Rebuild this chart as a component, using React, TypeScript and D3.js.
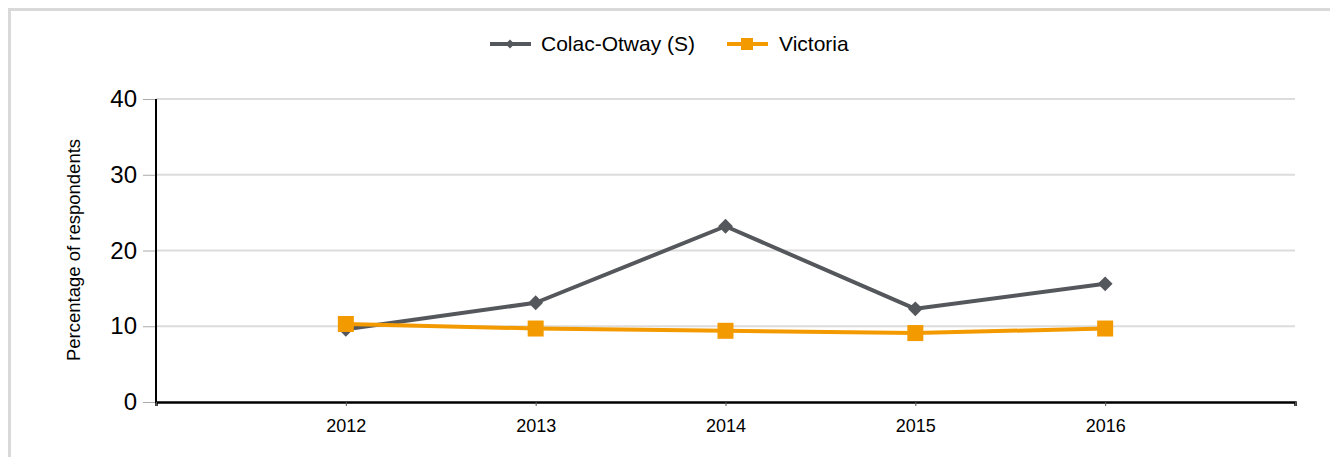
import React, { useEffect, useRef } from "react";
import * as d3 from "d3";

const years = [2012, 2013, 2014, 2015, 2016];
const colacOtway = [9.6, 13.1, 23.2, 12.3, 15.6];
const victoria = [10.3, 9.7, 9.4, 9.1, 9.7];
const yTicks = [0, 10, 20, 30, 40];

const GREY = "#54575b";
const ORANGE = "#f39a00";
const FONT = "Liberation Sans, Arial, sans-serif";

export default function App() {
  const ref = useRef<SVGSVGElement>(null);

  useEffect(() => {
    const svg = d3.select(ref.current);
    svg.selectAll("*").remove();

    // outer frame (runs off the right/bottom of the page)
    svg.append("rect")
      .attr("x", 9.5).attr("y", 9.5)
      .attr("width", 1400).attr("height", 500)
      .attr("fill", "#fff")
      .attr("stroke", "#d9d9d9")
      .attr("stroke-width", 3);

    const x = d3.scaleLinear().domain([2011, 2017]).range([156, 1295]);
    const y = d3.scaleLinear().domain([0, 40]).range([402, 99]);

    // gridlines
    svg.append("g")
      .selectAll("line")
      .data(yTicks.filter(d => d > 0))
      .enter().append("line")
      .attr("x1", 156).attr("x2", 1295)
      .attr("y1", d => y(d)).attr("y2", d => y(d))
      .attr("stroke", "#dcdcdc")
      .attr("stroke-width", 2);

    // y axis
    const yAxis = svg.append("g")
      .attr("transform", "translate(156,0)")
      .call(d3.axisLeft(y).tickValues(yTicks).tickSize(13).tickPadding(6));
    yAxis.select(".domain").remove();
    yAxis.selectAll(".tick line").attr("stroke", "#aaa").attr("stroke-width", 1);
    yAxis.selectAll(".tick text")
      .attr("fill", "#000")
      .style("font-family", FONT)
      .style("font-size", "24px");
    svg.append("line")
      .attr("x1", 156).attr("x2", 156)
      .attr("y1", y(40)).attr("y2", y(0) + 1)
      .attr("stroke", "#000").attr("stroke-width", 2);

    // x axis
    const xAxis = svg.append("g")
      .attr("transform", `translate(0,${y(0)})`)
      .call(d3.axisBottom(x).tickValues([2011, ...years, 2017]).tickSize(4).tickPadding(13)
        .tickFormat(d => (years.includes(+d) ? String(d) : "")));
    xAxis.select(".domain").attr("stroke", "#000").attr("stroke-width", 2.5);
    xAxis.selectAll(".tick line").attr("stroke", "#555");
    xAxis.selectAll(".tick text")
      .attr("fill", "#000")
      .style("font-family", FONT)
      .style("font-size", "18px");

    // y axis title
    svg.append("text")
      .attr("transform", "translate(80,250) rotate(-90)")
      .attr("text-anchor", "middle")
      .style("font-family", FONT)
      .style("font-size", "18.5px")
      .text("Percentage of respondents");

    const line = d3.line<number>()
      .x((_, i) => x(years[i]))
      .y(d => y(d));

    // diamonds drawn as squares turned 45 degrees
    const diamond = d3.symbol().type(d3.symbolSquare).size(110);

    // Colac-Otway series
    svg.append("path")
      .attr("d", line(colacOtway))
      .attr("fill", "none")
      .attr("stroke", GREY)
      .attr("stroke-width", 4)
      .attr("stroke-linejoin", "round");
    svg.append("g").selectAll("path")
      .data(colacOtway)
      .enter().append("path")
      .attr("d", diamond)
      .attr("transform", (d, i) => `translate(${x(years[i])},${y(d)}) rotate(45)`)
      .attr("fill", GREY);

    // Victoria series
    svg.append("path")
      .attr("d", line(victoria))
      .attr("fill", "none")
      .attr("stroke", ORANGE)
      .attr("stroke-width", 4);
    svg.append("g").selectAll("rect")
      .data(victoria)
      .enter().append("rect")
      .attr("x", (_, i) => x(years[i]) - 8)
      .attr("y", d => y(d) - 8)
      .attr("width", 16).attr("height", 16)
      .attr("fill", ORANGE);

    // legend
    const legend = svg.append("g").style("font-family", FONT).style("font-size", "21px");
    const g1 = legend.append("g").attr("transform", "translate(490,44)");
    g1.append("line").attr("x1", 0).attr("x2", 41).attr("stroke", GREY).attr("stroke-width", 4);
    g1.append("path").attr("d", d3.symbol().type(d3.symbolSquare).size(40)).attr("transform", "translate(20,0) rotate(45)").attr("fill", GREY);
    g1.append("text").attr("x", 51).attr("dy", "0.35em").text("Colac-Otway (S)");

    const g2 = legend.append("g").attr("transform", "translate(727,44)");
    g2.append("line").attr("x1", 0).attr("x2", 41).attr("stroke", ORANGE).attr("stroke-width", 4);
    g2.append("rect").attr("x", 14).attr("y", -6).attr("width", 12).attr("height", 12).attr("fill", ORANGE);
    g2.append("text").attr("x", 52).attr("dy", "0.35em").text("Victoria");
  }, []);

  return (
    <svg
      ref={ref}
      width={1330}
      height={457}
      style={{ position: "absolute", left: 0, top: 0 }}
    />
  );
}
